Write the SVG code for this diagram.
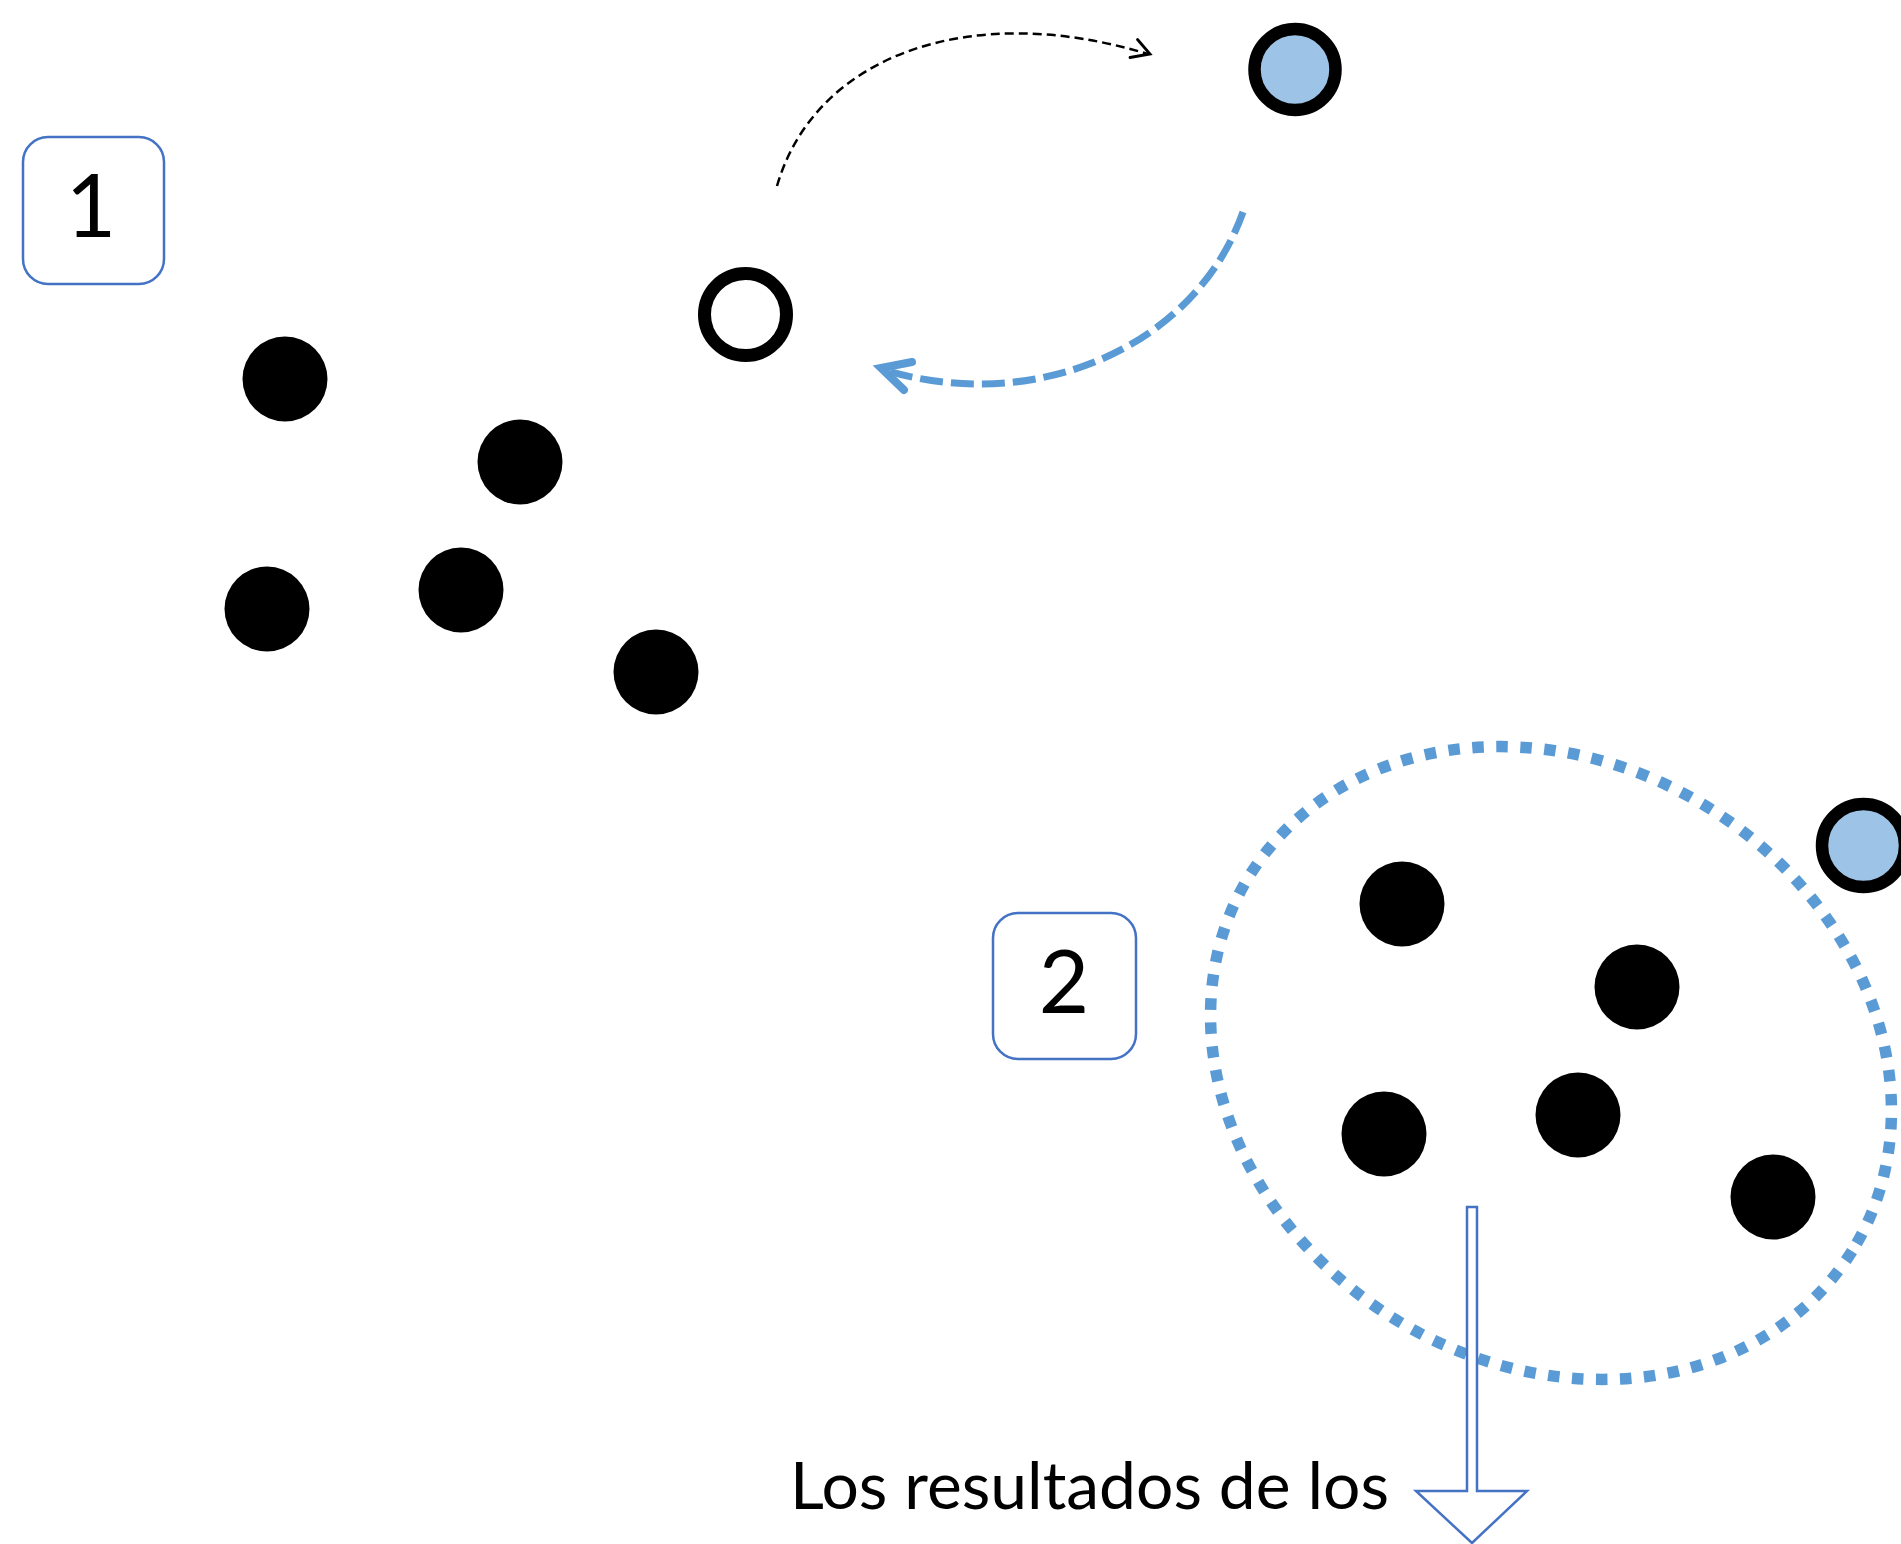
<svg xmlns="http://www.w3.org/2000/svg" width="1901" height="1544" viewBox="0 0 1901 1544">
<style>
.dot{fill:#000}
.ring{fill:#fff;stroke:#000;stroke-width:13}
.blue{fill:#9DC3E6;stroke:#000;stroke-width:12.5}
.box{fill:#fff;stroke:#4472C4;stroke-width:2.5}
.num{font-family:Lato,"Noto Sans","Liberation Sans",sans-serif;font-size:87px;fill:#000;text-anchor:middle}
.lbl{font-family:Lato,"Noto Sans","Liberation Sans",sans-serif;font-size:65px;fill:#000}
</style>
<rect width="1901" height="1544" fill="#fff"/>
<g id="box1"><rect class="box" x="23" y="137" width="141" height="147" rx="25"/><text class="num" x="91" y="237">1</text></g>
<g id="box2"><rect class="box" x="993" y="913" width="143" height="146" rx="25"/><text class="num" x="1064" y="1013">2</text></g>
<g id="cluster1">
<circle id="d1" class="dot" cx="285" cy="379" r="42.5"/>
<circle id="d2" class="dot" cx="520" cy="462" r="42.5"/>
<circle id="d3" class="dot" cx="267" cy="609" r="42.5"/>
<circle id="d4" class="dot" cx="461" cy="590" r="42.5"/>
<circle id="d5" class="dot" cx="656" cy="672" r="42.5"/>
</g>
<g id="hollow"><circle class="ring" cx="745.5" cy="314.5" r="41"/></g>
<g id="bluetop"><circle class="blue" cx="1295" cy="69.5" r="40.5"/></g>
<g id="ellipse"><ellipse cx="1551" cy="1063" rx="355" ry="300" transform="rotate(32 1551 1063)" fill="none" stroke="#5B9BD5" stroke-width="11.5" stroke-dasharray="11.5 12.5"/></g>
<g id="cluster2">
<circle id="e1" class="dot" cx="1402" cy="904" r="42.5"/>
<circle id="e2" class="dot" cx="1637" cy="987" r="42.5"/>
<circle id="e3" class="dot" cx="1384" cy="1134" r="42.5"/>
<circle id="e4" class="dot" cx="1578" cy="1115" r="42.5"/>
<circle id="e5" class="dot" cx="1773" cy="1197" r="42.5"/>
</g>
<g id="bluebottom"><circle class="blue" cx="1863.5" cy="845.5" r="41.5"/></g>
<g id="connectors">
<path d="M777,186 C815,55 970,0 1148,54" fill="none" stroke="#000" stroke-width="2.5" stroke-dasharray="9 5"/>
<path d="M1130,57.5 L1150,54 L1137.5,39.5" fill="none" stroke="#000" stroke-width="2.8" stroke-linecap="round"/>
<path d="M1243,212 C1195,348 1035,414 888,371" fill="none" stroke="#5B9BD5" stroke-width="7" stroke-dasharray="23 8"/>
<path d="M912,362 L881,368 L904,390" fill="none" stroke="#5B9BD5" stroke-width="8" stroke-linecap="round" stroke-linejoin="miter"/>
<path d="M1467,1207 H1477 V1491 H1527 L1472,1543 L1416,1491 H1467 Z" fill="#fff" stroke="#4472C4" stroke-width="2.5"/>
</g>
<g id="label"><text class="lbl" x="790" y="1509" textLength="599" lengthAdjust="spacingAndGlyphs">Los resultados de los</text></g>
</svg>
